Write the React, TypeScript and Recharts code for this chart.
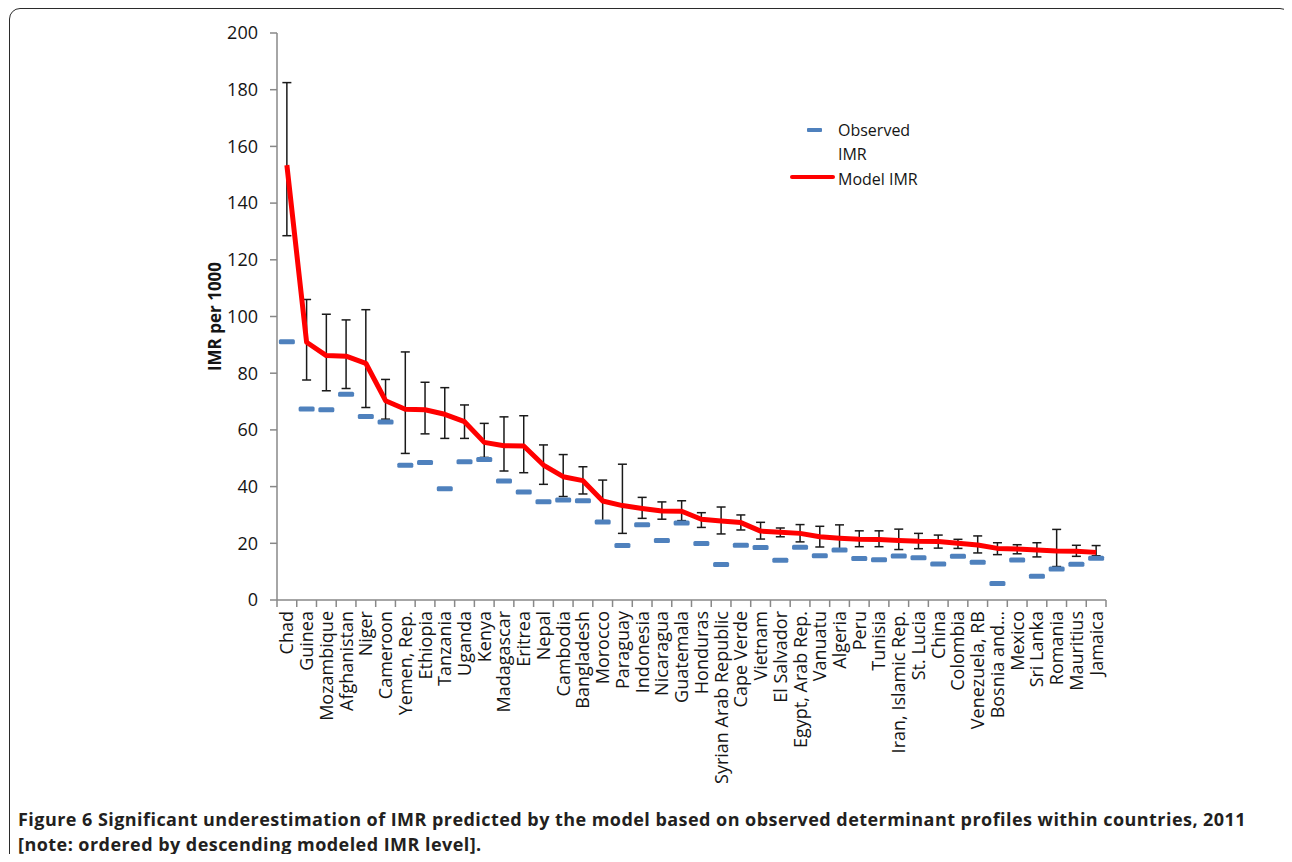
import React from 'react';
import { ComposedChart, Line, XAxis, YAxis, ErrorBar } from 'recharts';

// countries ordered by descending modelled IMR
const countries = [
  'Chad', 'Guinea', 'Mozambique', 'Afghanistan', 'Niger', 'Cameroon', 'Yemen, Rep.',
  'Ethiopia', 'Tanzania', 'Uganda', 'Kenya', 'Madagascar', 'Eritrea', 'Nepal',
  'Cambodia', 'Bangladesh', 'Morocco', 'Paraguay', 'Indonesia', 'Nicaragua', 'Guatemala',
  'Honduras', 'Syrian Arab Republic', 'Cape Verde', 'Vietnam', 'El Salvador',
  'Egypt, Arab Rep.', 'Vanuatu', 'Algeria', 'Peru', 'Tunisia', 'Iran, Islamic Rep.',
  'St. Lucia', 'China', 'Colombia', 'Venezuela, RB', 'Bosnia and…', 'Mexico',
  'Sri Lanka', 'Romania', 'Mauritius', 'Jamaica',
];

const modelImr = [
  153.4, 90.9, 86.2, 86, 83.5, 70.3, 67.3, 67.1, 65.5, 62.9, 55.6, 54.4, 54.3, 47.6,
  43.5, 42.1, 34.9, 33.3, 32.3, 31.4, 31.3, 28.5, 27.9, 27.3, 24.3, 23.9, 23.5, 22.3,
  21.8, 21.4, 21.3, 21, 20.7, 20.6, 20, 19.4, 18.2, 18, 17.6, 17.3, 17.2, 16.8,
];

const observedImr = [
  91.1, 67.4, 67.1, 72.6, 64.7, 62.8, 47.5, 48.5, 39.2, 48.8, 49.6, 42, 38.1, 34.7,
  35.3, 35, 27.5, 19.2, 26.5, 21, 27.2, 19.9, 12.5, 19.3, 18.5, 14, 18.6, 15.6,
  17.6, 14.6, 14.2, 15.5, 14.9, 12.7, 15.4, 13.3, 5.8, 14.1, 8.4, 10.9, 12.6, 14.7,
];

const lowerLimit = [
  128.5, 77.6, 73.8, 74.6, 67.9, 63.8, 51.7, 58.6, 57, 57, 50.3, 45.5, 44.9, 40.8,
  36.5, 37.4, 27.6, 23.5, 28.8, 28.5, 28, 25.6, 23.3, 24.7, 21.5, 22.3, 20.5, 18.7,
  17.6, 18.8, 18.8, 17.8, 18.1, 18.3, 18.2, 16.6, 16, 16.3, 15.2, 11.8, 15.4, 15.6,
];

const upperLimit = [
  182.5, 106, 100.8, 98.8, 102.4, 77.8, 87.5, 76.8, 74.9, 68.8, 62.3, 64.6, 65, 54.7,
  51.3, 47, 42.3, 47.9, 36.2, 34.6, 35, 30.8, 32.8, 30, 27.4, 25.4, 26.6, 26,
  26.5, 24.4, 24.4, 25, 23.5, 22.9, 21.4, 22.6, 20.2, 19.5, 20.2, 24.9, 19.3, 19.2,
];

const yTicks = [0, 20, 40, 60, 80, 100, 120, 140, 160, 180, 200];

const FONT = '"Open Sans", "Noto Sans", sans-serif';
const TEXT = '#151515';

const data = countries.map((country, i) => ({
  country,
  model: modelImr[i],
  observed: observedImr[i],
  err: [modelImr[i] - lowerLimit[i], upperLimit[i] - modelImr[i]],
}));

// excel style: tick marks between categories, labels turned 90 degrees
const CountryTick = (props: any) => {
  const { x, y, payload, index } = props;
  const half = payload && payload.offset ? payload.offset : 9.87;
  const ty = y + 11;
  return (
    <g>
      <line x1={x - half} y1={y} x2={x - half} y2={y + 7} stroke="#888" strokeWidth={1.5} />
      {index === countries.length - 1 && (
        <line x1={x + half} y1={y} x2={x + half} y2={y + 7} stroke="#888" strokeWidth={1.5} />
      )}
      <text
        x={x}
        y={ty}
        transform={`rotate(-90, ${x}, ${ty})`}
        textAnchor="end"
        dy="0.36em"
        fontSize={18}
        fill={TEXT}
        fontFamily={FONT}
      >
        {payload.value}
      </text>
    </g>
  );
};

const ObservedDash = (props: any) => {
  const { cx, cy, index } = props;
  if (cx == null || cy == null) return <g key={`obs-${index}`} />;
  return (
    <rect key={`obs-${index}`} x={cx - 8} y={cy - 2.5} width={16} height={5} rx={1.5} fill="#4f81bd" />
  );
};

const YLabel = (props: any) => {
  const vb = props.viewBox || { x: 209, y: 25, width: 60, height: 567 };
  const x = vb.x - 2;
  const y = vb.y + vb.height / 2;
  return (
    <text
      x={x}
      y={y}
      transform={`rotate(-90, ${x}, ${y})`}
      textAnchor="middle"
      dy="0.36em"
      fontSize={17}
      fontWeight={700}
      fill={TEXT}
      fontFamily={FONT}
    >
      IMR per 1000
    </text>
  );
};

const legendText: React.CSSProperties = {
  position: 'absolute',
  fontFamily: FONT,
  fontSize: 16,
  lineHeight: '18px',
  color: TEXT,
  whiteSpace: 'nowrap',
};

const App: React.FC = () => {
  return (
    <div style={{ position: 'relative', width: 1276, height: 846 }}>
      <style>{'body{overflow:hidden}'}</style>
      <div
        style={{
          position: 'absolute',
          left: 1,
          top: 0,
          width: 1282,
          height: 900,
          boxSizing: 'border-box',
          border: '1.5px solid #2b2b2b',
          borderRadius: 11,
        }}
      />
      <div style={{ position: 'absolute', left: 0, top: 0 }}>
        <ComposedChart
          width={1120}
          height={800}
          data={data}
          margin={{ top: 25, right: 22, left: 209, bottom: 18 }}
        >
          <XAxis
            dataKey="country"
            scale="band"
            interval={0}
            height={190}
            tickSize={0}
            tickMargin={0}
            tickLine={false}
            axisLine={{ stroke: '#888', strokeWidth: 1.5 }}
            tick={<CountryTick />}
          />
          <YAxis
            width={60}
            domain={[0, 200]}
            ticks={yTicks}
            interval={0}
            tickSize={7}
            tickMargin={12}
            axisLine={{ stroke: '#888', strokeWidth: 1.5 }}
            tickLine={{ stroke: '#888', strokeWidth: 1.5 }}
            tick={{ fontSize: 18, fill: TEXT, fontFamily: FONT }}
            label={<YLabel />}
          />
          <Line
            dataKey="model"
            stroke="none"
            dot={false}
            activeDot={false}
            legendType="none"
            isAnimationActive={false}
          >
            <ErrorBar dataKey="err" direction="y" width={4.5} strokeWidth={1.5} stroke="#1a1a1a" />
          </Line>
          <Line
            dataKey="observed"
            stroke="none"
            dot={ObservedDash}
            activeDot={false}
            isAnimationActive={false}
          />
          <Line
            dataKey="model"
            type="linear"
            stroke="#ff0000"
            strokeWidth={5}
            strokeLinejoin="round"
            dot={false}
            activeDot={false}
            isAnimationActive={false}
          />
        </ComposedChart>
      </div>

      {/* legend */}
      <div style={{ position: 'absolute', left: 799, top: 120, width: 15, height: 4, background: '#4f81bd', borderRadius: 1 }} />
      <div style={{ ...legendText, left: 830, top: 113 }}>Observed</div>
      <div style={{ ...legendText, left: 830, top: 137 }}>IMR</div>
      <div style={{ position: 'absolute', left: 782, top: 167, width: 45, height: 4, background: '#ff0000', borderRadius: 2 }} />
      <div style={{ ...legendText, left: 830, top: 162 }}>Model IMR</div>

      {/* caption */}
      <div
        style={{
          position: 'absolute',
          left: 10,
          top: 799,
          fontFamily: FONT,
          fontSize: 18,
          lineHeight: '25px',
          fontWeight: 700,
          letterSpacing: 0.45,
          color: '#231f20',
          whiteSpace: 'nowrap',
        }}
      >
        <div>
          <span>Figure 6</span> Significant underestimation of IMR predicted by the model based on observed determinant profiles within countries, 2011
        </div>
        <div>[note: ordered by descending modeled IMR level].</div>
      </div>
    </div>
  );
};

export default App;
